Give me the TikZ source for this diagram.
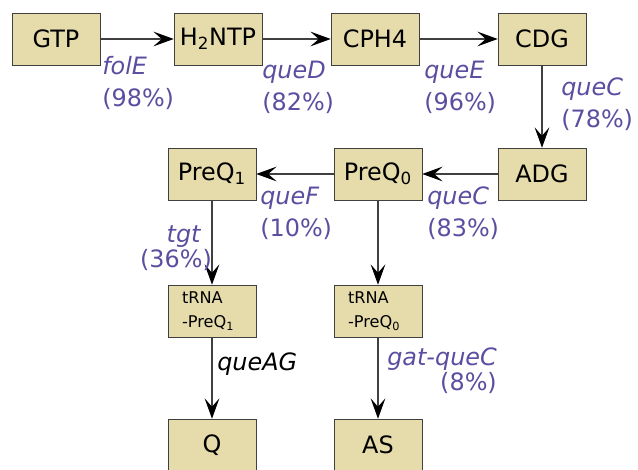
\documentclass[tikz,border=0pt]{standalone}
\usepackage{fontspec}
\setmainfont{DejaVu Sans}
\usetikzlibrary{arrows.meta}
\definecolor{boxfill}{HTML}{E6DCAB}
\definecolor{genecol}{HTML}{5B4EA0}

\begin{document}
\begin{tikzpicture}[
	metab/.style={draw=black!75, fill=boxfill, minimum width=2.2cm, minimum height=1.3cm, inner sep=2pt, font=\fontsize{17}{19}\selectfont},
	trna/.style={metab, align=left, text width=1.5cm, font=\fontsize{11.5}{17.5}\selectfont},
	gene/.style={text=genecol, inner sep=0pt, align=left, font=\fontsize{17}{22.8}\selectfont},
	conv/.style={draw=black!75, line width=0.8pt, -{Stealth[length=14.5pt, width=10.5pt, inset=6pt, black]}}
]
	\useasboundingbox (0,0) rectangle (15.95,11.75);

	% metabolites
	\node[metab] (GTP) at (1.4,10.775) {GTP};
	\node[metab] (H2NTP) at (5.45,10.775) {H\textsubscript{2}NTP};
	\node[metab] (CPH4) at (9.375,10.775) {CPH4};
	\node[metab] (CDG) at (13.55,10.775) {CDG};
	\node[metab] (ADG) at (13.55,7.4) {ADG};
	\node[metab] (PreQ0) at (9.45,7.4) {PreQ\textsubscript{0}};
	\node[metab] (PreQ1) at (5.3,7.4) {PreQ\textsubscript{1}};
	\node[trna] (tPreQ1) at (5.3,3.975) {tRNA\\-PreQ\textsubscript{1}};
	\node[trna] (tPreQ0) at (9.45,3.975) {tRNA\\-PreQ\textsubscript{0}};
	\node[metab] (Q) at (5.3,0.625) {Q};
	\node[metab] (AS) at (9.45,0.625) {AS};

	% reactions
	\draw[conv] (GTP) -- (H2NTP);
	\draw[conv] (H2NTP) -- (CPH4);
	\draw[conv] (CPH4) -- (CDG);
	\draw[conv] (CDG) -- (ADG);
	\draw[conv] (ADG) -- (PreQ0);
	\draw[conv] (PreQ0) -- (PreQ1);
	\draw[conv] (PreQ1) -- (tPreQ1);
	\draw[conv] (PreQ0) -- (tPreQ0);
	\draw[conv] (tPreQ1) -- (Q);
	\draw[conv] (tPreQ0) -- (AS);

	% genes
	\node[gene, anchor=north west] (folE) at (2.55,10.35) {\textit{folE}\\(98\%)};
	\node[gene, anchor=north west] (queD) at (6.55,10.225) {\textit{queD}\\(82\%)};
	\node[gene, anchor=north west] (queE) at (10.6,10.225) {\textit{queE}\\(96\%)};
	\node[gene, anchor=north west] (queCa) at (14.025,9.825) {\textit{queC}\\(78\%)};
	\node[gene, anchor=north west] (queF) at (6.5,7.075) {\textit{queF}\\(10\%)};
	\node[gene, anchor=north west] (queCb) at (10.675,7.1) {\textit{queC}\\(83\%)};
	\node[gene, anchor=north, align=center] (tgt) at (4.4,6.125) {\hspace*{0.4cm}\textit{tgt}\\[-5pt](36\%)};
	\node[gene, anchor=north west, text=black] (queAG) at (5.425,2.95) {\textit{queAG}};
	\node[gene, anchor=north west, align=right] (gatqueC) at (9.675,3.075) {\textit{gat-queC}\\[-5pt](8\%)};
\end{tikzpicture}
\end{document}
